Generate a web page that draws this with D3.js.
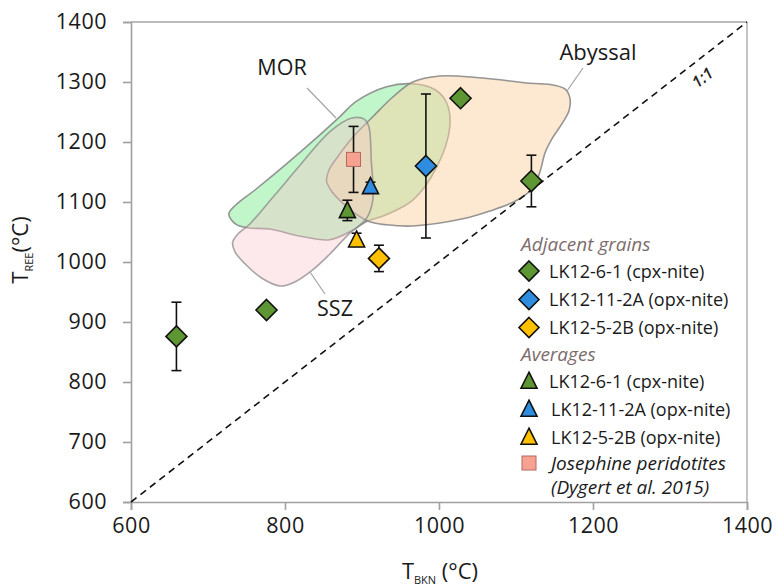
<!DOCTYPE html>
<html>
<head>
<meta charset="utf-8">
<script src="https://cdn.jsdelivr.net/npm/d3@7/dist/d3.min.js"></script>
<style>
  html, body { margin: 0; padding: 0; background: #fff; }
  svg { display: block; font-family: "Open Sans", "Liberation Sans", sans-serif; }
</style>
</head>
<body>
<svg id="chart" width="777" height="588"></svg>
<script>
// ---------------- DATA ----------------
const xTicks = [600, 800, 1000, 1200, 1400];
const yTicks = [600, 700, 800, 900, 1000, 1100, 1200, 1300, 1400];

// Field outlines [T_BKN, T_REE]
const abyssalField = [[854,1135],[857,1153],[867,1173],[888,1208],[914,1242],[940,1275],[966,1300],[1001,1310],[1053,1307],[1118,1298],[1148,1295],[1164,1288],[1170,1273],[1169,1253],[1161,1233],[1148,1208],[1138,1183],[1131,1150],[1121,1122],[1100,1102],[1066,1085],[1031,1072],[966,1060],[932,1062],[910,1067],[892,1080],[875,1098],[861,1117]];
const morField = [[727,1080],[736,1095],[761,1120],[797,1158],[842,1208],[871,1242],[893,1268],[932,1292],[966,1297],[995,1287],[1010,1265],[1014,1225],[997,1158],[966,1103],[930,1078],[905,1067],[888,1053],[858,1037],[820,1043],[780,1055],[751,1057],[736,1063]];
const sszField = [[887,1240],[903,1238],[909,1225],[912,1170],[914,1103],[906,1073],[884,1048],[858,1013],[836,987],[810,965],[794,960],[770,973],[748,997],[735,1017],[732,1033],[739,1047],[754,1063],[787,1112],[820,1162],[858,1217]];

// Adjacent grains (diamonds): [T_BKN, T_REE, error]
const adjCpx61   = [[659, 876, 57], [776, 920, 0], [1028, 1273, 0], [1120, 1135, 43]];
const adjOpx112A = [[983, 1160, 120]];
const adjOpx52B  = [[922, 1006, 22]];
// Averages (triangles)
const avgCpx61   = [[881, 1086, 17]];
const avgOpx112A = [[911, 1126, 7]];
const avgOpx52B  = [[893, 1037, 11]];
// Josephine peridotites (square)
const josephine  = [[889, 1171, 55]];

const legendLabels = ["LK12-6-1 (cpx-nite)", "LK12-11-2A (opx-nite)", "LK12-5-2B (opx-nite)"];
const sampleColors = ["#5f9634", "#2f8de0", "#ffc000"];
const josephineLabel = ["Josephine peridotites", "(Dygert et al. 2015)"];

// ---------------- CHART ----------------
const svg = d3.select("#chart");
const x = d3.scaleLinear().domain([600, 1400]).range([131, 747]);
const y = d3.scaleLinear().domain([600, 1400]).range([502, 22]);

// Fields
const areaLine = d3.line().x(d => x(d[0])).y(d => y(d[1])).curve(d3.curveCatmullRomClosed.alpha(0.5));
const fields = svg.append("g");
fields.append("path").attr("d", areaLine(morField))
  .attr("fill", "#98eea6").attr("fill-opacity", 0.6)
  .attr("stroke", "#8a8a8a").attr("stroke-width", 1.6).attr("stroke-opacity", 0.9);
fields.append("path").attr("d", areaLine(abyssalField))
  .attr("fill", "#fbd3a4").attr("fill-opacity", 0.5)
  .attr("stroke", "#8a8a8a").attr("stroke-width", 1.6).attr("stroke-opacity", 0.9);
fields.append("path").attr("d", areaLine(sszField))
  .attr("fill", "#fbc6cb").attr("fill-opacity", 0.38)
  .attr("stroke", "#8a8a8a").attr("stroke-width", 1.6).attr("stroke-opacity", 0.75);

// Frame top/right
svg.append("line").attr("x1", x(600)).attr("x2", x(1400)).attr("y1", y(1400)).attr("y2", y(1400))
  .attr("stroke", "#a6a6a6").attr("stroke-width", 1.3);
svg.append("line").attr("x1", x(1400)).attr("x2", x(1400)).attr("y1", y(1400)).attr("y2", y(600))
  .attr("stroke", "#a6a6a6").attr("stroke-width", 1.3);

// Axes
const xAxis = svg.append("g").attr("transform", `translate(0,${y(600)})`)
  .call(d3.axisBottom(x).tickValues(xTicks).tickSize(8).tickPadding(8).tickFormat(d3.format("d")));
const yAxis = svg.append("g").attr("transform", `translate(${x(600)},0)`)
  .call(d3.axisLeft(y).tickValues(yTicks).tickSize(8).tickPadding(16).tickFormat(d3.format("d")));
[xAxis, yAxis].forEach(g => {
  g.select(".domain").attr("stroke", "#a0a0a0").attr("stroke-width", 1.6);
  g.selectAll(".tick line").attr("stroke", "#a0a0a0").attr("stroke-width", 1.6);
  g.selectAll(".tick text").attr("fill", "#1a1a1a").style("font-size", "21.5px")
    .style("letter-spacing", "0.5px").style("font-family", "'Open Sans', sans-serif");
});

// 1:1 line
svg.append("line").attr("x1", x(600)).attr("y1", y(600)).attr("x2", x(1400)).attr("y2", y(1400))
  .attr("stroke", "#111").attr("stroke-width", 1.6).attr("stroke-dasharray", "7,5");
svg.append("text").attr("transform", `translate(706,82) rotate(-38)`)
  .attr("text-anchor", "middle").style("font-size", "16px").style("font-style", "italic")
  .style("font-weight", "600").attr("fill", "#222").text("1:1");

// Callout lines and field labels
const callouts = svg.append("g").attr("stroke", "#a8a8a8").attr("stroke-width", 1.3);
callouts.append("line").attr("x1", 307).attr("y1", 88).attr("x2", 336).attr("y2", 118);
callouts.append("line").attr("x1", 583).attr("y1", 68).attr("x2", 567).attr("y2", 91);
callouts.append("line").attr("x1", 310).attr("y1", 272).attr("x2", 325).attr("y2", 294);
const lbl = (t, cx, by, fs) => svg.append("text").attr("x", cx).attr("y", by).attr("text-anchor", "middle")
  .style("font-size", fs + "px").attr("fill", "#1a1a1a").text(t);
lbl("MOR", 282, 75, 21.5);
lbl("Abyssal", 598, 60, 22);
lbl("SSZ", 335, 316, 21.5);

// Error bars
const allPts = [].concat(adjCpx61, adjOpx112A, adjOpx52B, avgCpx61, avgOpx112A, avgOpx52B, josephine)
  .filter(d => d[2] > 0);
const eb = svg.append("g").attr("stroke", "#111").attr("stroke-width", 1.6);
allPts.forEach(d => {
  const cx = x(d[0]);
  eb.append("line").attr("x1", cx).attr("x2", cx).attr("y1", y(d[1] + d[2])).attr("y2", y(d[1] - d[2]));
  [d[1] + d[2], d[1] - d[2]].forEach(v => {
    eb.append("line").attr("x1", cx - 5).attr("x2", cx + 5).attr("y1", y(v)).attr("y2", y(v));
  });
});

// Markers
const diamond = (cx, cy, r) => `M${cx},${cy - r}L${cx + r},${cy}L${cx},${cy + r}L${cx - r},${cy}Z`;
const triangle = (cx, cy, s) => `M${cx},${cy - s * 0.55}L${cx + s / 2},${cy + s * 0.45}L${cx - s / 2},${cy + s * 0.45}Z`;
const mk = svg.append("g").attr("stroke", "#111").attr("stroke-width", 1.6).attr("stroke-linejoin", "miter");
[adjCpx61, adjOpx112A, adjOpx52B].forEach((arr, i) => arr.forEach(d => {
  mk.append("path").attr("d", diamond(x(d[0]), y(d[1]), 10.5)).attr("fill", sampleColors[i]);
}));
[avgCpx61, avgOpx112A, avgOpx52B].forEach((arr, i) => arr.forEach(d => {
  mk.append("path").attr("d", triangle(x(d[0]), y(d[1]), 16)).attr("fill", sampleColors[i]);
}));
josephine.forEach(d => {
  svg.append("rect").attr("x", x(d[0]) - 7).attr("y", y(d[1]) - 7).attr("width", 14).attr("height", 14)
    .attr("fill", "#f7a191").attr("stroke", "#b06a62").attr("stroke-width", 1);
});

// Legend
const lg = svg.append("g");
const hdr = (t, by) => lg.append("text").attr("x", 521).attr("y", by).style("font-size", "19px")
  .style("font-style", "italic").attr("fill", "#7d6c6c").text(t);
hdr("Adjacent grains", 251);
const rowY1 = [271, 299.5, 327.5];
legendLabels.forEach((t, i) => {
  lg.append("path").attr("d", diamond(529, rowY1[i], 10)).attr("fill", sampleColors[i])
    .attr("stroke", "#111").attr("stroke-width", 1.6);
  lg.append("text").attr("x", 549).attr("y", rowY1[i] + 6.5).style("font-size", "18px")
    .attr("fill", "#1a1a1a").text(t);
});
hdr("Averages", 361);
const rowY2 = [381, 409, 437];
legendLabels.forEach((t, i) => {
  lg.append("path").attr("d", triangle(529, rowY2[i], 16)).attr("fill", sampleColors[i])
    .attr("stroke", "#111").attr("stroke-width", 1.6);
  lg.append("text").attr("x", i === 0 ? 549 : 551).attr("y", rowY2[i] + 6.5).style("font-size", "18px")
    .attr("fill", "#1a1a1a").text(t);
});
lg.append("rect").attr("x", 522).attr("y", 456).attr("width", 14).attr("height", 14)
  .attr("fill", "#f7a191").attr("stroke", "#b06a62").attr("stroke-width", 1);
lg.append("text").attr("x", 551).attr("y", 469.5).style("font-size", "19px").style("font-style", "italic")
  .attr("fill", "#1a1a1a").text(josephineLabel[0]);
lg.append("text").attr("x", 551).attr("y", 493.5).style("font-size", "19px").style("font-style", "italic")
  .attr("fill", "#1a1a1a").text(josephineLabel[1]);

// Axis titles
const xt = svg.append("text").attr("x", 440).attr("y", 579).attr("text-anchor", "middle")
  .style("font-size", "22px").attr("fill", "#1a1a1a");
xt.append("tspan").text("T");
xt.append("tspan").attr("dy", 5).style("font-size", "11px").text("BKN");
xt.append("tspan").attr("dy", -5).text(" (°C)");

const yt = svg.append("text").attr("transform", "translate(28,250) rotate(-90)").attr("text-anchor", "middle")
  .style("font-size", "22px").attr("fill", "#1a1a1a");
yt.append("tspan").text("T");
yt.append("tspan").attr("dy", 5).style("font-size", "11px").text("REE");
yt.append("tspan").attr("dy", -5).text("(°C)");
</script>
</body>
</html>
